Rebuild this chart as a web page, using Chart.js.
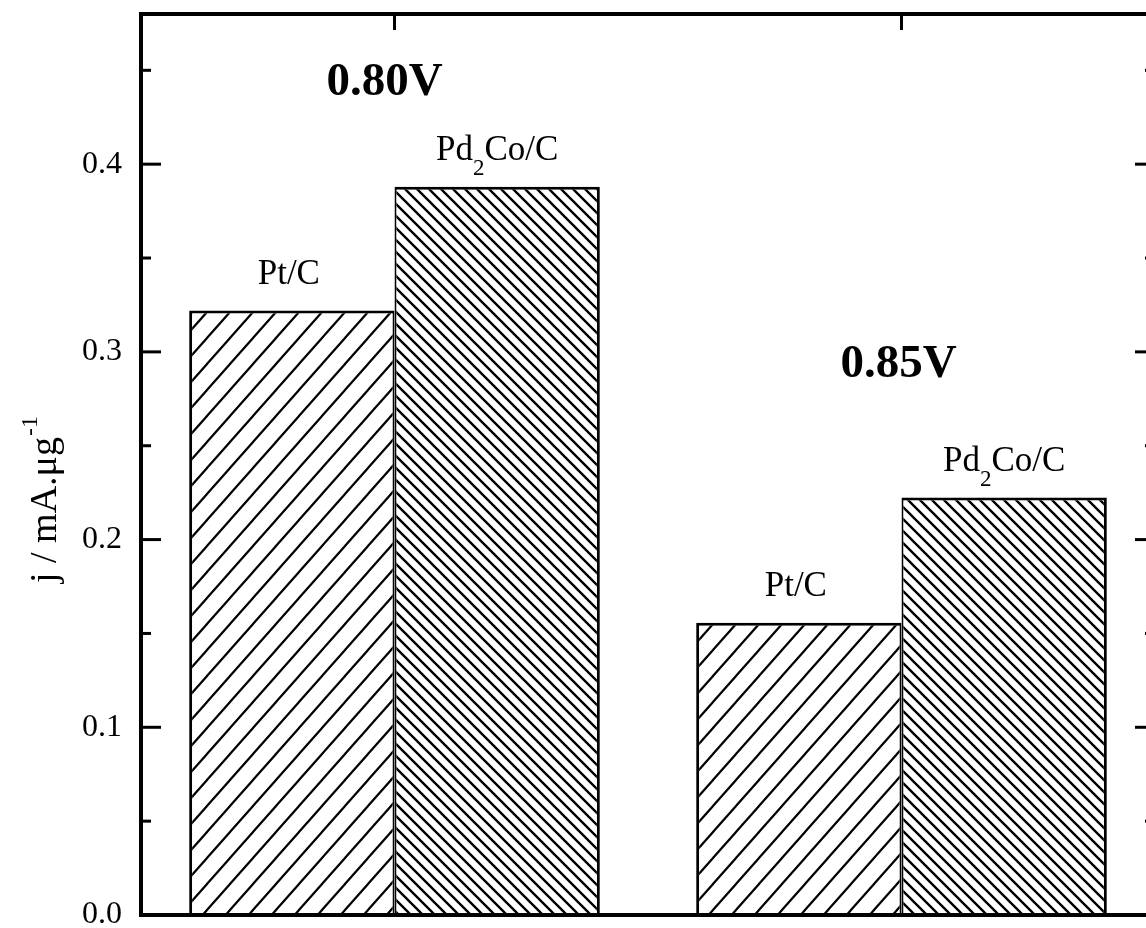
<!DOCTYPE html>
<html>
<head>
<meta charset="utf-8">
<script src="https://cdn.jsdelivr.net/npm/chart.js@4/dist/chart.umd.min.js"></script>
<style>
html,body{margin:0;padding:0;overflow:hidden;background:#fff;width:1146px;height:928px}
#wrap{position:absolute;left:0;top:0;width:1170px;height:928px}
</style>
</head>
<body>
<div id="wrap"><canvas id="c" width="1170" height="928"></canvas></div>
<script>
// ---- data ----
const categories = ['0.80V', '0.85V'];
const seriesNames = ['Pt/C', 'Pd2Co/C'];
const ptC = [0.322, 0.1557];
const pd2CoC = [0.388, 0.2224];
const yTickLabels = ['0.0', '0.1', '0.2', '0.3', '0.4'];
const yAxisTitle = 'j / mA.μg';
const yAxisTitleSup = '-1';

// ---- styling ----
const SERIF = '"Liberation Serif", "Times New Roman", Times, serif';
const Y_MIN = 0, Y_MAX = 0.48, MAJOR = 0.1, MINOR = 0.05;

function hatch(w, h, dir, lw) {
  const c = document.createElement('canvas');
  c.width = w; c.height = h;
  const g = c.getContext('2d');
  g.fillStyle = '#fff'; g.fillRect(0, 0, w, h);
  g.strokeStyle = '#000'; g.lineWidth = lw; g.beginPath();
  for (let k = -1; k <= 1; k++) {
    if (dir === '/') { g.moveTo(k * w - w / 2, h + h / 2); g.lineTo(k * w + w + w / 2, -h / 2); }
    else { g.moveTo(k * w - w / 2, -h / 2); g.lineTo(k * w + w + w / 2, h + h / 2); }
  }
  g.stroke();
  return g.createPattern(c, 'repeat');
}

function isMajor(v) {
  const r = Math.round(v / MAJOR);
  return Math.abs(v - r * MAJOR) < 1e-9;
}

const decor = {
  id: 'decor',
  afterDatasetsDraw(chart) {
    const { ctx, chartArea: a, scales: { x, y } } = chart;
    ctx.save();
    ctx.strokeStyle = '#000';
    ctx.fillStyle = '#000';
    const line = (x1, y1, x2, y2) => { ctx.beginPath(); ctx.moveTo(x1, y1); ctx.lineTo(x2, y2); ctx.stroke(); };

    // frame
    ctx.lineWidth = 4;
    ctx.strokeRect(a.left, a.top, a.right - a.left, a.bottom - a.top);

    // inward y ticks (left + right)
    ctx.lineWidth = 3;
    for (let v = MINOR; v < Y_MAX - 1e-9; v += MINOR) {
      const py = y.getPixelForValue(v);
      const L = isMajor(v) ? 20 : 10;
      line(a.left, py, a.left + L, py);
      line(a.right, py, a.right - L, py);
    }
    // top ticks at category centres
    categories.forEach((c, i) => {
      const px = x.getPixelForValue(i);
      line(px, a.top, px, a.top + 16);
    });

    // bar labels
    const lblFont = '35px ' + SERIF;
    const subFont = '23px ' + SERIF;
    ctx.textBaseline = 'alphabetic';
    chart.data.datasets.forEach((ds, d) => {
      const meta = chart.getDatasetMeta(d);
      meta.data.forEach((bar) => {
        const cx = bar.x, by = bar.y - 27;
        if (ds.label === 'Pt/C') {
          ctx.font = lblFont; ctx.textAlign = 'center';
          ctx.fillText('Pt/C', cx - 3, by);
        } else {
          ctx.textAlign = 'left';
          ctx.font = lblFont; const w1 = ctx.measureText('Pd').width; const w3 = ctx.measureText('Co/C').width;
          ctx.font = subFont; const w2 = ctx.measureText('2').width;
          let sx = cx - (w1 + w2 + w3) / 2;
          ctx.font = lblFont; ctx.fillText('Pd', sx, by); sx += w1;
          ctx.font = subFont; ctx.fillText('2', sx, by + 15); sx += w2;
          ctx.font = lblFont; ctx.fillText('Co/C', sx, by);
        }
      });
    });

    // group (potential) labels
    const groupY = [0.437, 0.2866];
    const groupDx = [-10, -3];
    ctx.font = 'bold 47px ' + SERIF; ctx.textAlign = 'center';
    categories.forEach((c, i) => {
      ctx.fillText(c, x.getPixelForValue(i) + groupDx[i], y.getPixelForValue(groupY[i]));
    });

    // y axis title (rotated, with superscript)
    ctx.save();
    ctx.translate(45, 500);
    ctx.rotate(-Math.PI / 2);
    ctx.textAlign = 'left';
    ctx.font = '38px ' + SERIF; const t1 = ctx.measureText(yAxisTitle).width;
    ctx.font = '24px ' + SERIF; const t2 = ctx.measureText(yAxisTitleSup).width;
    let tx = -(t1 + t2) / 2;
    ctx.font = '38px ' + SERIF; ctx.fillText(yAxisTitle, tx, 11);
    ctx.font = '24px ' + SERIF; ctx.fillText(yAxisTitleSup, tx + t1 + 1, -8);
    ctx.restore();

    ctx.restore();
  }
};

new Chart(document.getElementById('c').getContext('2d'), {
  type: 'bar',
  data: {
    labels: categories,
    datasets: [
      { label: seriesNames[0], data: ptC, backgroundColor: hatch(23, 26, '/', 2.2),
        borderColor: '#000', borderWidth: { left: 3, top: 3, right: 2, bottom: 0 }, borderSkipped: false },
      { label: seriesNames[1], data: pd2CoC, backgroundColor: hatch(12, 12, '\\', 2.4),
        borderColor: '#000', borderWidth: { left: 2, top: 3, right: 3, bottom: 0 }, borderSkipped: false }
    ]
  },
  options: {
    responsive: false,
    animation: false,
    devicePixelRatio: 1,
    layout: { padding: { left: 0, top: 14, right: 15, bottom: 13 } },
    datasets: { bar: { categoryPercentage: 0.81, barPercentage: 1.0 } },
    plugins: { legend: { display: false }, tooltip: { enabled: false }, title: { display: false } },
    scales: {
      x: { display: false, grid: { display: false } },
      y: {
        min: Y_MIN, max: Y_MAX,
        grid: { display: false, drawTicks: false },
        border: { display: false },
        ticks: {
          stepSize: MINOR, autoSkip: false, padding: 19, color: '#000',
          font: { family: SERIF, size: 32 },
          callback: (v) => {
            const r = Math.round(v / MAJOR);
            return (isMajor(v) && r < yTickLabels.length) ? yTickLabels[r] : '';
          }
        },
        afterFit: (s) => { s.width = 141; s.paddingTop = 0; s.paddingBottom = 0; }
      }
    }
  },
  plugins: [decor]
});
</script>
</body>
</html>
